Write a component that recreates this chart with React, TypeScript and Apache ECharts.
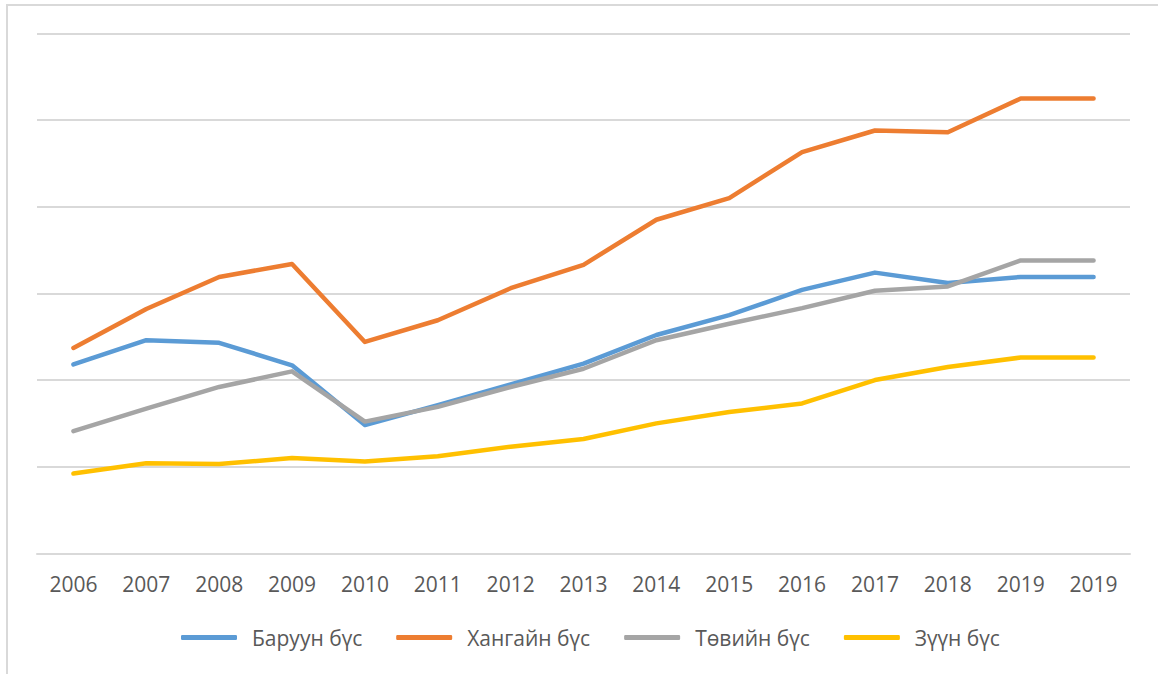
import React, { useEffect, useRef } from "react";
import * as echarts from "echarts";

const categories = ["2006", "2007", "2008", "2009", "2010", "2011", "2012", "2013", "2014", "2015", "2016", "2017", "2018", "2019", "2019"];
const seriesNames = ["Баруун бүс", "Хангайн бүс", "Төвийн бүс", "Зүүн бүс"];
const baruun = [2.18, 2.46, 2.43, 2.17, 1.48, 1.71, 1.95, 2.19, 2.52, 2.75, 3.04, 3.24, 3.12, 3.19, 3.19];
const khangai = [2.37, 2.82, 3.19, 3.34, 2.44, 2.69, 3.06, 3.33, 3.85, 4.1, 4.63, 4.88, 4.86, 5.25, 5.25];
const tuv = [1.41, 1.67, 1.92, 2.1, 1.52, 1.69, 1.92, 2.13, 2.46, 2.65, 2.83, 3.03, 3.08, 3.38, 3.38];
const zuun = [0.92, 1.04, 1.03, 1.1, 1.06, 1.12, 1.23, 1.32, 1.5, 1.63, 1.73, 2.0, 2.15, 2.26, 2.26];
const colors = ["#5B9BD5", "#ED7D31", "#A5A5A5", "#FFC000"];

export default function App() {
  const ref = useRef<HTMLDivElement>(null);
  useEffect(() => {
    if (!ref.current) return;
    const chart = echarts.init(ref.current, null, { renderer: "svg" });
    const data = [baruun, khangai, tuv, zuun];
    chart.setOption({
      animation: false,
      backgroundColor: "#ffffff",
      textStyle: { fontFamily: "'Open Sans', sans-serif" },
      graphic: [
        {
          type: "rect",
          shape: { x: 7, y: 5, width: 1200, height: 700 },
          style: { fill: "none", stroke: "#d9d9d9", lineWidth: 2 },
          silent: true,
        },
      ],
      grid: { left: 37, right: 28, top: 33.5, bottom: 120.7 },
      legend: {
        left: 176,
        top: 622,
        icon: "roundRect",
        itemWidth: 56,
        itemHeight: 5,
        itemGap: 34,
        data: seriesNames,
        textStyle: { color: "#595959", fontSize: 21, padding: [0, 0, 0, 10], fontFamily: "'Open Sans', sans-serif" },
      },
      xAxis: {
        type: "category",
        data: categories,
        boundaryGap: true,
        axisLine: { lineStyle: { color: "#d9d9d9", width: 2 } },
        axisTick: { show: false },
        axisLabel: { color: "#595959", fontSize: 21, margin: 20, interval: 0, fontFamily: "'Open Sans', sans-serif" },
      },
      yAxis: {
        type: "value",
        min: 0,
        max: 6,
        interval: 1,
        axisLabel: { show: false },
        axisLine: { show: false },
        axisTick: { show: false },
        splitLine: { lineStyle: { color: "#d9d9d9", width: 2 } },
      },
      series: seriesNames.map((name, i) => ({
        name,
        type: "line",
        data: data[i],
        symbol: "none",
        color: colors[i],
        lineStyle: { width: 4.5, color: colors[i], cap: "round", join: "round" },
        itemStyle: { color: colors[i] },
      })),
    });
    return () => chart.dispose();
  }, []);
  return <div ref={ref} style={{ position: "fixed", left: 0, top: 0, width: 1158, height: 674 }} />;
}
